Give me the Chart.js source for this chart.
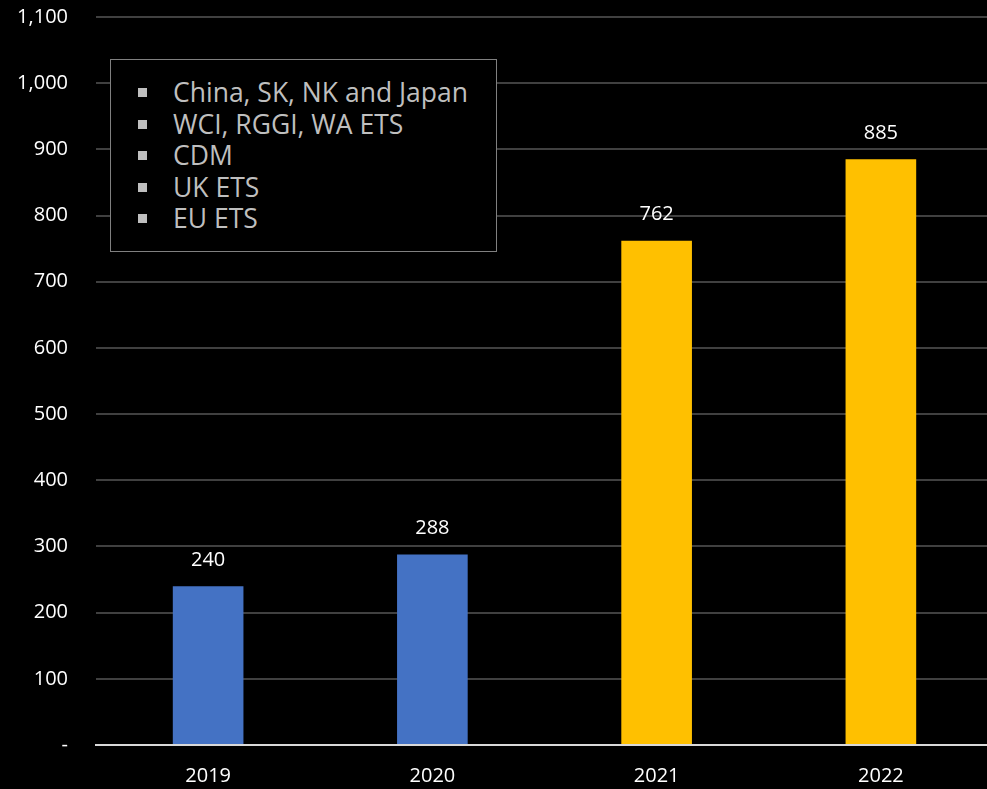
<!DOCTYPE html>
<html>
<head>
<meta charset="utf-8">
<script src="https://cdn.jsdelivr.net/npm/chart.js@4.4.0/dist/chart.umd.min.js"></script>
<style>
  html, body { margin: 0; padding: 0; background: #000; overflow: hidden; }
  #wrap { position: relative; width: 993px; height: 789px; }
  #legendBox {
    position: absolute; left: 110px; top: 59px; width: 385px; height: 191px;
    border: 1px solid #808080; background: #000;
    font-family: "Open Sans", sans-serif; font-size: 26.5px; color: #bfbfbf;
    box-sizing: content-box;
  }
  #legendBox ul { list-style: none; margin: 0; padding: 17px 0 0 0; }
  #legendBox li { height: 31.6px; line-height: 31.6px; position: relative; padding-left: 62px; white-space: nowrap; }
  #legendBox li span.mk { position: absolute; left: 27px; top: 11px; width: 9px; height: 9px; background: #bfbfbf; }
</style>
</head>
<body>
<div id="wrap">
  <canvas id="myChart" width="993" height="789"></canvas>
  <div id="legendBox"><ul id="legendList"></ul></div>
</div>
<script>
var years = ["2019", "2020", "2021", "2022"];
var totals = [240, 288, 762, 885];
var barColors = ["#4472C4", "#4472C4", "#FFC000", "#FFC000"];
var seriesNames = ["China, SK, NK and Japan", "WCI, RGGI, WA ETS", "CDM", "UK ETS", "EU ETS"];
var yMax = 1100;
var yStep = 100;

// legend (just grey markers like the original)
var list = document.getElementById("legendList");
seriesNames.forEach(function (name) {
  var li = document.createElement("li");
  li.innerHTML = '<span class="mk"></span>' + name;
  list.appendChild(li);
});

var valueLabels = {
  id: "valueLabels",
  afterDatasetsDraw: function (chart) {
    var ctx = chart.ctx;
    var meta = chart.getDatasetMeta(0);
    ctx.save();
    ctx.fillStyle = "#ffffff";
    ctx.font = '20px "Open Sans", sans-serif';
    ctx.textAlign = "center";
    ctx.textBaseline = "middle";
    meta.data.forEach(function (bar, i) {
      ctx.fillText(totals[i].toString(), bar.x, bar.y - 26);
    });
    ctx.restore();
  }
};

var ctx = document.getElementById("myChart");
var myChart = new Chart(ctx, {
  type: "bar",
  data: {
    labels: years,
    datasets: [{
      label: "Total",
      data: totals,
      backgroundColor: barColors,
      barPercentage: 0.315,
      categoryPercentage: 1.0
    }]
  },
  options: {
    responsive: false,
    animation: false,
    layout: { padding: { top: 17, right: 0, left: 0, bottom: 0 } },
    plugins: {
      legend: { display: false },
      tooltip: { enabled: false }
    },
    scales: {
      x: {
        grid: { display: false, drawTicks: false },
        border: { color: "#d9d9d9", width: 2 },
        ticks: {
          color: "#ffffff",
          padding: 19,
          font: { family: '"Open Sans", sans-serif', size: 20 }
        },
        afterFit: function (scale) { scale.height = 44; }
      },
      y: {
        min: 0,
        max: yMax,
        grid: { color: "#404040", lineWidth: 2, drawTicks: true, tickLength: 28, tickColor: "rgba(0,0,0,0)" },
        border: { display: false },
        ticks: {
          stepSize: yStep,
          color: "#ffffff",
          padding: 0,
          font: { family: '"Open Sans", sans-serif', size: 20 },
          callback: function (v) { return v === 0 ? "-" : v.toLocaleString("en-US"); }
        },
        afterFit: function (scale) { scale.width = 96; }
      }
    }
  },
  plugins: [valueLabels]
});
</script>
</body>
</html>
